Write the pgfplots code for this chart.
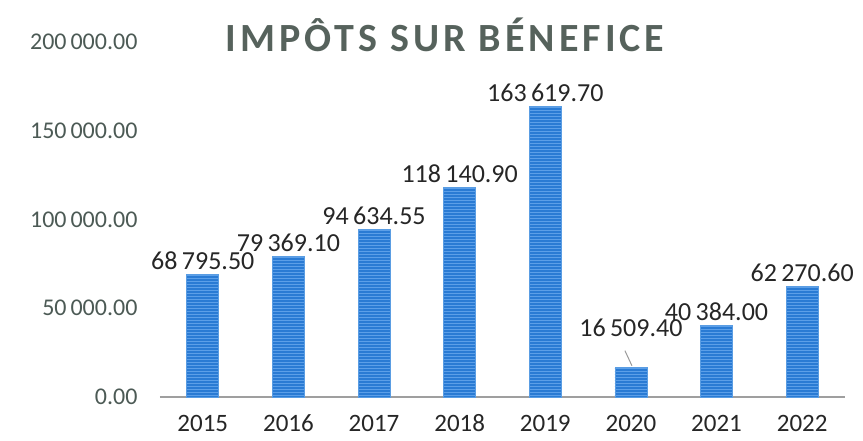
\documentclass[border=0pt]{standalone}
\usepackage{fontspec}
\setmainfont{Carlito}
\newfontfamily\titlefont[LetterSpace=10]{Carlito}
\usepackage{pgfplots}
\pgfplotsset{compat=1.18}
\usetikzlibrary{patterns}

\definecolor{barblue}{HTML}{2A7BD4}
\definecolor{barstripe}{HTML}{5C9FE8}
\definecolor{baredge}{HTML}{5A9DE3}
\definecolor{titlegray}{HTML}{56625C}
\definecolor{labeltext}{HTML}{262626}
\definecolor{ticktext}{HTML}{4C5A55}

\begin{document}
\begin{tikzpicture}
\begin{axis}[
    at={(0pt,0pt)}, anchor=south west,
    scale only axis, width=685pt, height=355pt,
    xmin=-0.5, xmax=7.5, ymin=0, ymax=200000,
    scaled y ticks=false,
    axis x line*=bottom, axis y line*=left,
    x axis line style={-, draw=gray!75, line width=1.6pt},
    y axis line style={draw=none},
    tick style={draw=none},
    xtick={0,...,7},
    xticklabels={2015,2016,2017,2018,2019,2020,2021,2022},
    xticklabel style={font=\fontsize{25}{25}\selectfont, text=labeltext, yshift=-10pt},
    ytick={0,50000,100000,150000,200000},
    yticklabels={0.00,50\,000.00,100\,000.00,150\,000.00,200\,000.00},
    yticklabel style={font=\fontsize{24}{24}\selectfont, text=ticktext, xshift=-19pt},
    ybar, bar width=32pt, bar shift=0pt,
    point meta=explicit symbolic,
    nodes near coords,
    every node near coord/.append style={font=\fontsize{26}{26}\selectfont, text=labeltext, yshift=1pt},
    clip=false,
]
\addplot[fill=barblue, draw=baredge, line width=0.8pt,
    postaction={pattern=horizontal lines, pattern color=barstripe}]
    coordinates {
    (0,68795.50) [68\,795.50]
    (1,79369.10) [79\,369.10]
    (2,94634.55) [94\,634.55]
    (3,118140.90) [118\,140.90]
    (4,163619.70) [163\,619.70]
    (6,40384.00) [40\,384.00]
    (7,62270.60) [62\,270.60]
    };
\addplot[fill=barblue, draw=baredge, line width=0.8pt,
    postaction={pattern=horizontal lines, pattern color=barstripe},
    every node near coord/.append style={yshift=26pt}]
    coordinates {(5,16509.40) [16\,509.40]};
\draw[gray!80, line width=1pt] (axis cs:5,16509.40) ++(1pt,2pt) -- ++(-7pt,15pt);
\node[font=\titlefont\bfseries\fontsize{40}{40}\selectfont, text=titlegray]
    at (rel axis cs:0.416,1.02) {IMPÔTS SUR BÉNEFICE};
\end{axis}
\pgfresetboundingbox
\path (-160pt,-44pt) rectangle (703pt,397pt);
\end{tikzpicture}
\end{document}
